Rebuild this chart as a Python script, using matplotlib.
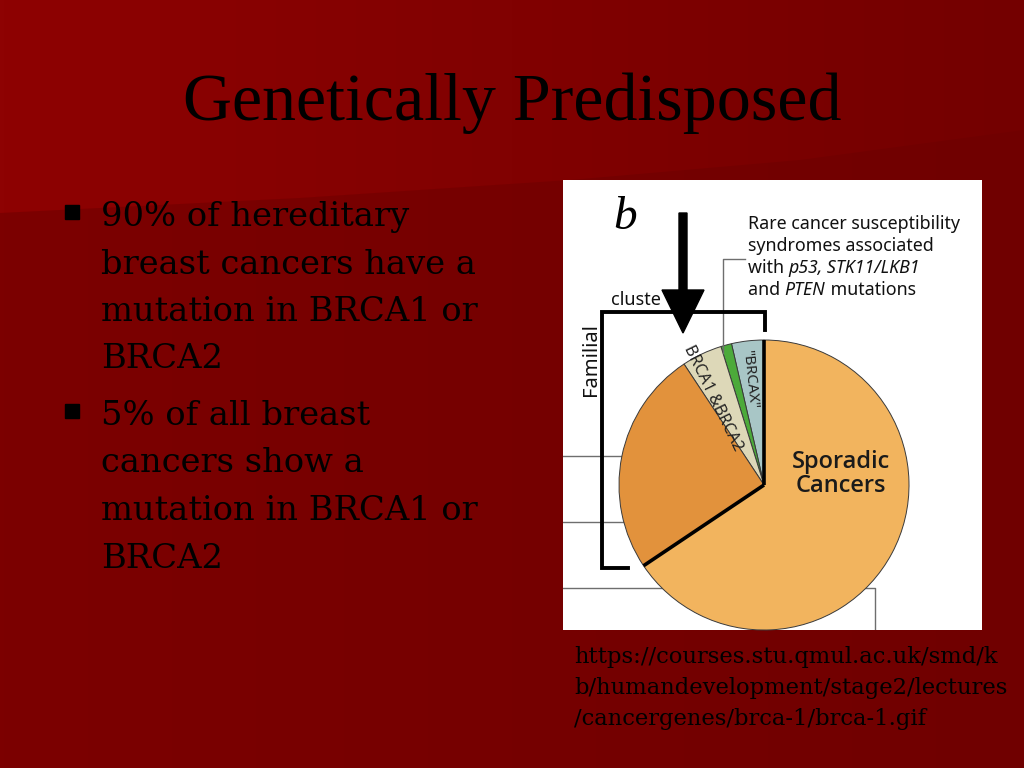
import matplotlib.pyplot as plt
import numpy as np
from matplotlib.patches import Polygon, Rectangle, FancyArrow
from matplotlib.colors import LinearSegmentedColormap

W, H = 1024, 768

# slide texts
title = "Genetically Predisposed"
bullet_1 = ["90% of hereditary", "breast cancers have a", "mutation in BRCA1 or", "BRCA2"]
bullet_2 = ["5% of all breast", "cancers show a", "mutation in BRCA1 or", "BRCA2"]
source = ["https://courses.stu.qmul.ac.uk/smd/k",
          "b/humandevelopment/stage2/lectures",
          "/cancergenes/brca-1/brca-1.gif"]

# pie slices, counterclockwise from 12 o'clock (percent)
slice_names = ['"BRCAX"', 'rare syndromes', 'BRCA1 &BRCA2', 'clustered', 'Sporadic\nCancers']
slice_pct = [3.6, 1.2, 4.5, 25.1, 65.6]
slice_colors = ['#a8c6c6', '#4caa3a', '#ddd8b8', '#e2923c', '#f2b45e']

fig = plt.figure(figsize=(W / 100, H / 100), dpi=100)

# ---- background (pixel coords, y down)
bg = fig.add_axes([0, 0, 1, 1])
bg.set_xlim(0, W); bg.set_ylim(H, 0); bg.axis('off')
cm_low = LinearSegmentedColormap.from_list('low', ['#7c0000', '#700000'])
cm_top = LinearSegmentedColormap.from_list('top', ['#8e0202', '#740000'])
grad = np.linspace(0, 1, 256).reshape(1, -1)
bg.imshow(grad, cmap=cm_low, extent=(0, W, H, 0), aspect='auto', zorder=0)
top = bg.imshow(grad, cmap=cm_top, extent=(0, W, H, 0), aspect='auto', zorder=1)
top_poly = Polygon([(0, 0), (W, 0), (W, 130), (800, 160), (570, 180), (300, 198), (0, 213)],
                   closed=True, transform=bg.transData, facecolor='none', edgecolor='none')
bg.add_patch(top_poly)
top.set_clip_path(top_poly)

bg.text(512, 120, title, ha='center', va='baseline', fontsize=49,
        family='Liberation Serif', color='black', zorder=5)

for lines, y0 in [(bullet_1, 226), (bullet_2, 425)]:
    bg.add_patch(Rectangle((65, y0 - 21), 14, 14, color='black', zorder=5))
    for i, line in enumerate(lines):
        bg.text(101, y0 + i * 47.5, line, ha='left', va='baseline', fontsize=24.3,
                family='DejaVu Serif', color='black', zorder=5)

for i, line in enumerate(source):
    bg.text(574, 663 + i * 31, line, ha='left', va='baseline', fontsize=16.3,
            family='DejaVu Serif', color='black', zorder=5)

# ---- figure panel (pixel coords, y up)
ax = fig.add_axes([563 / W, (H - 630) / H, 419 / W, 450 / H])
cx, cy, r = 764, H - 485, 145
wedges, _ = ax.pie(slice_pct, colors=slice_colors, startangle=90, counterclock=True,
                   center=(cx, cy), radius=r, frame=True,
                   wedgeprops=dict(edgecolor='#3a3a3a', linewidth=0.7))
ax.set_xlim(563, 982); ax.set_ylim(H - 630, H - 180)
ax.set_aspect('auto')
ax.set_xticks([]); ax.set_yticks([])
for s in ax.spines.values():
    s.set_visible(False)
ax.set_facecolor('white')

# thick boundaries of the familial part
for t in [wedges[0].theta1, wedges[3].theta2]:
    a = np.deg2rad(t)
    ax.plot([cx, cx + r * np.cos(a)], [cy, cy + r * np.sin(a)], color='black', lw=2.6,
            solid_capstyle='butt', zorder=3)

# grey leader lines behind the pie
gray = '#6e6e6e'
for yy in [456, 522]:
    ax.plot([563, 700], [H - yy, H - yy], color=gray, lw=1, zorder=0.5)
ax.plot([563, 875, 875], [H - 588, H - 588, H - 630], color=gray, lw=1, zorder=0.5)
ax.plot([745, 723, 723], [H - 259, H - 259, H - 353], color=gray, lw=1, zorder=3)

# bracket
ax.plot([628, 602, 602, 765, 765], [H - 568, H - 568, H - 312, H - 312, H - 330],
        color='black', lw=2.8, zorder=3, solid_joinstyle='miter')

ax.text(625, H - 218, 'b', ha='center', va='center', fontsize=34, style='italic',
        family='Liberation Serif', color='black')

sans = 'Noto Sans'
ax.text(611, H - 300, 'cluste', ha='left', va='center', fontsize=13, family=sans, color='#111')
ax.text(591, H - 360, 'Familial', ha='center', va='center', fontsize=14.5, rotation=90,
        family=sans, color='#111')

arrow = FancyArrow(683, H - 213, 0, -(333 - 213), width=8, head_width=42, head_length=43,
                   length_includes_head=True, color='black', zorder=4)
ax.add_patch(arrow)

fs = 12.8
y = H - 224
ax.text(748, y, 'Rare cancer susceptibility', ha='left', va='center', fontsize=fs, family=sans, color='#111')
ax.text(748, y - 22, 'syndromes associated', ha='left', va='center', fontsize=fs, family=sans, color='#111')
t = ax.text(748, y - 44, 'with ', ha='left', va='center', fontsize=fs, family=sans, color='#111')
ax.annotate('p53, STK11/LKB1', xy=(1, 0), xycoords=t, ha='left', va='bottom',
            fontsize=fs, family=sans, style='italic', color='#111')
t = ax.text(748, y - 66, 'and ', ha='left', va='center', fontsize=fs, family=sans, color='#111')
t2 = ax.annotate('PTEN', xy=(1, 0), xycoords=t, ha='left', va='bottom',
                 fontsize=fs, family=sans, style='italic', color='#111')
ax.annotate(' mutations', xy=(1, 0), xycoords=t2, ha='left', va='bottom',
            fontsize=fs, family=sans, color='#111')

ax.text(841, H - 474, slice_names[4], ha='center', va='center', fontsize=17,
        family=['Open Sans', 'DejaVu Sans'], weight='semibold', linespacing=1.0,
        color='#1a1a1a', zorder=5)
ax.text(713, H - 398, slice_names[2], ha='center', va='center', fontsize=11.5, rotation=-64,
        family=sans, color='#222', zorder=5)
ax.text(750, H - 379, slice_names[0], ha='center', va='center', fontsize=10.8, rotation=-84,
        family=sans, color='#222', zorder=5)

fig.savefig('out.png', dpi=100)
